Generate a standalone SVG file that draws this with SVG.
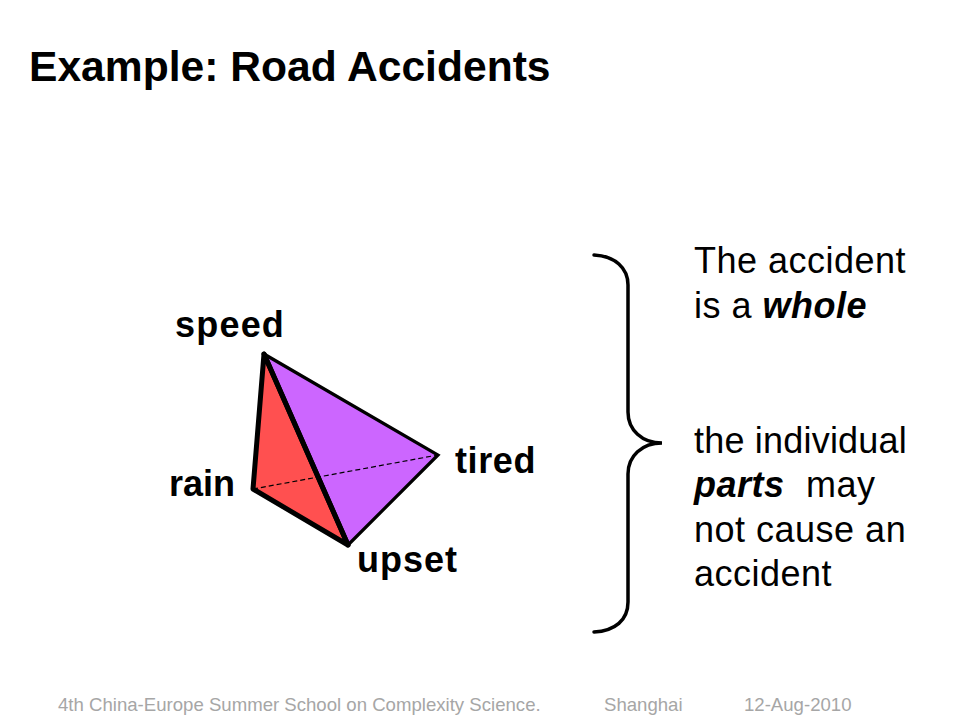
<svg xmlns="http://www.w3.org/2000/svg" width="960" height="720" viewBox="0 0 960 720">
<style>
text{font-family:"Liberation Sans",Arial,sans-serif;fill:#000}
.t{font-size:42.6px;font-weight:700}
.l{font-size:36px;font-weight:700;letter-spacing:1px}
.b{font-size:36px;letter-spacing:.5px}
.f{font-size:18.6px;fill:#a6a6a6}
.e{fill:none;stroke:#000;stroke-width:5;stroke-linejoin:round;stroke-linecap:round}
</style>
<rect width="960" height="720" fill="#fff"/>
<text class="t" x="29" y="81">Example: Road Accidents</text>
<g id="faces">
<polygon points="264,354 253,489 348,545" fill="#ff5050"/>
<polygon points="264,354 438,455 348,545" fill="#cc66ff"/>
</g>
<g id="connectors">
<line x1="253" y1="489" x2="438" y2="455" stroke="#000" stroke-width="1.2" stroke-dasharray="5 3"/>
<path class="e" d="M264,354L253,489L348,545Z"/>
<path d="M264,354L438,455L348,545" fill="none" stroke="#000" stroke-width="3.2" stroke-linejoin="miter"/>
<path class="e" d="M264,354L348,545"/>
</g>
<g id="speed"><text class="l" x="175" y="337" style="letter-spacing:1.2px">speed</text></g>
<g id="rain"><text class="l" x="169" y="496" style="letter-spacing:0">rain</text></g>
<g id="tired"><text class="l" x="455" y="473" style="letter-spacing:.6px">tired</text></g>
<g id="upset"><text class="l" x="357" y="572">upset</text></g>
<path id="brace" d="M594,255C615,256 628,268 628,285V412C628,430 642,443 662,443C642,443 628,456 628,474V602C628,620 615,631 594,632" fill="none" stroke="#000" stroke-width="3.5" stroke-linecap="round"/>
<g id="note">
<text class="b" x="694" y="273">The accident</text>
<text class="b" x="694" y="318">is a <tspan font-weight="700" font-style="italic">whole</tspan></text>
<text class="b" x="694" y="453" style="letter-spacing:.2px">the individual</text>
<text class="b" x="694" y="497"><tspan font-weight="700" font-style="italic">parts</tspan><tspan x="806">may</tspan></text>
<text class="b" x="694" y="542">not cause an</text>
<text class="b" x="694" y="586">accident</text>
</g>
<g id="footer">
<text class="f" x="58" y="711">4th China-Europe Summer School on Complexity Science.</text>
<text class="f" x="604" y="711">Shanghai</text>
<text class="f" x="744" y="711">12-Aug-2010</text>
</g>
</svg>
